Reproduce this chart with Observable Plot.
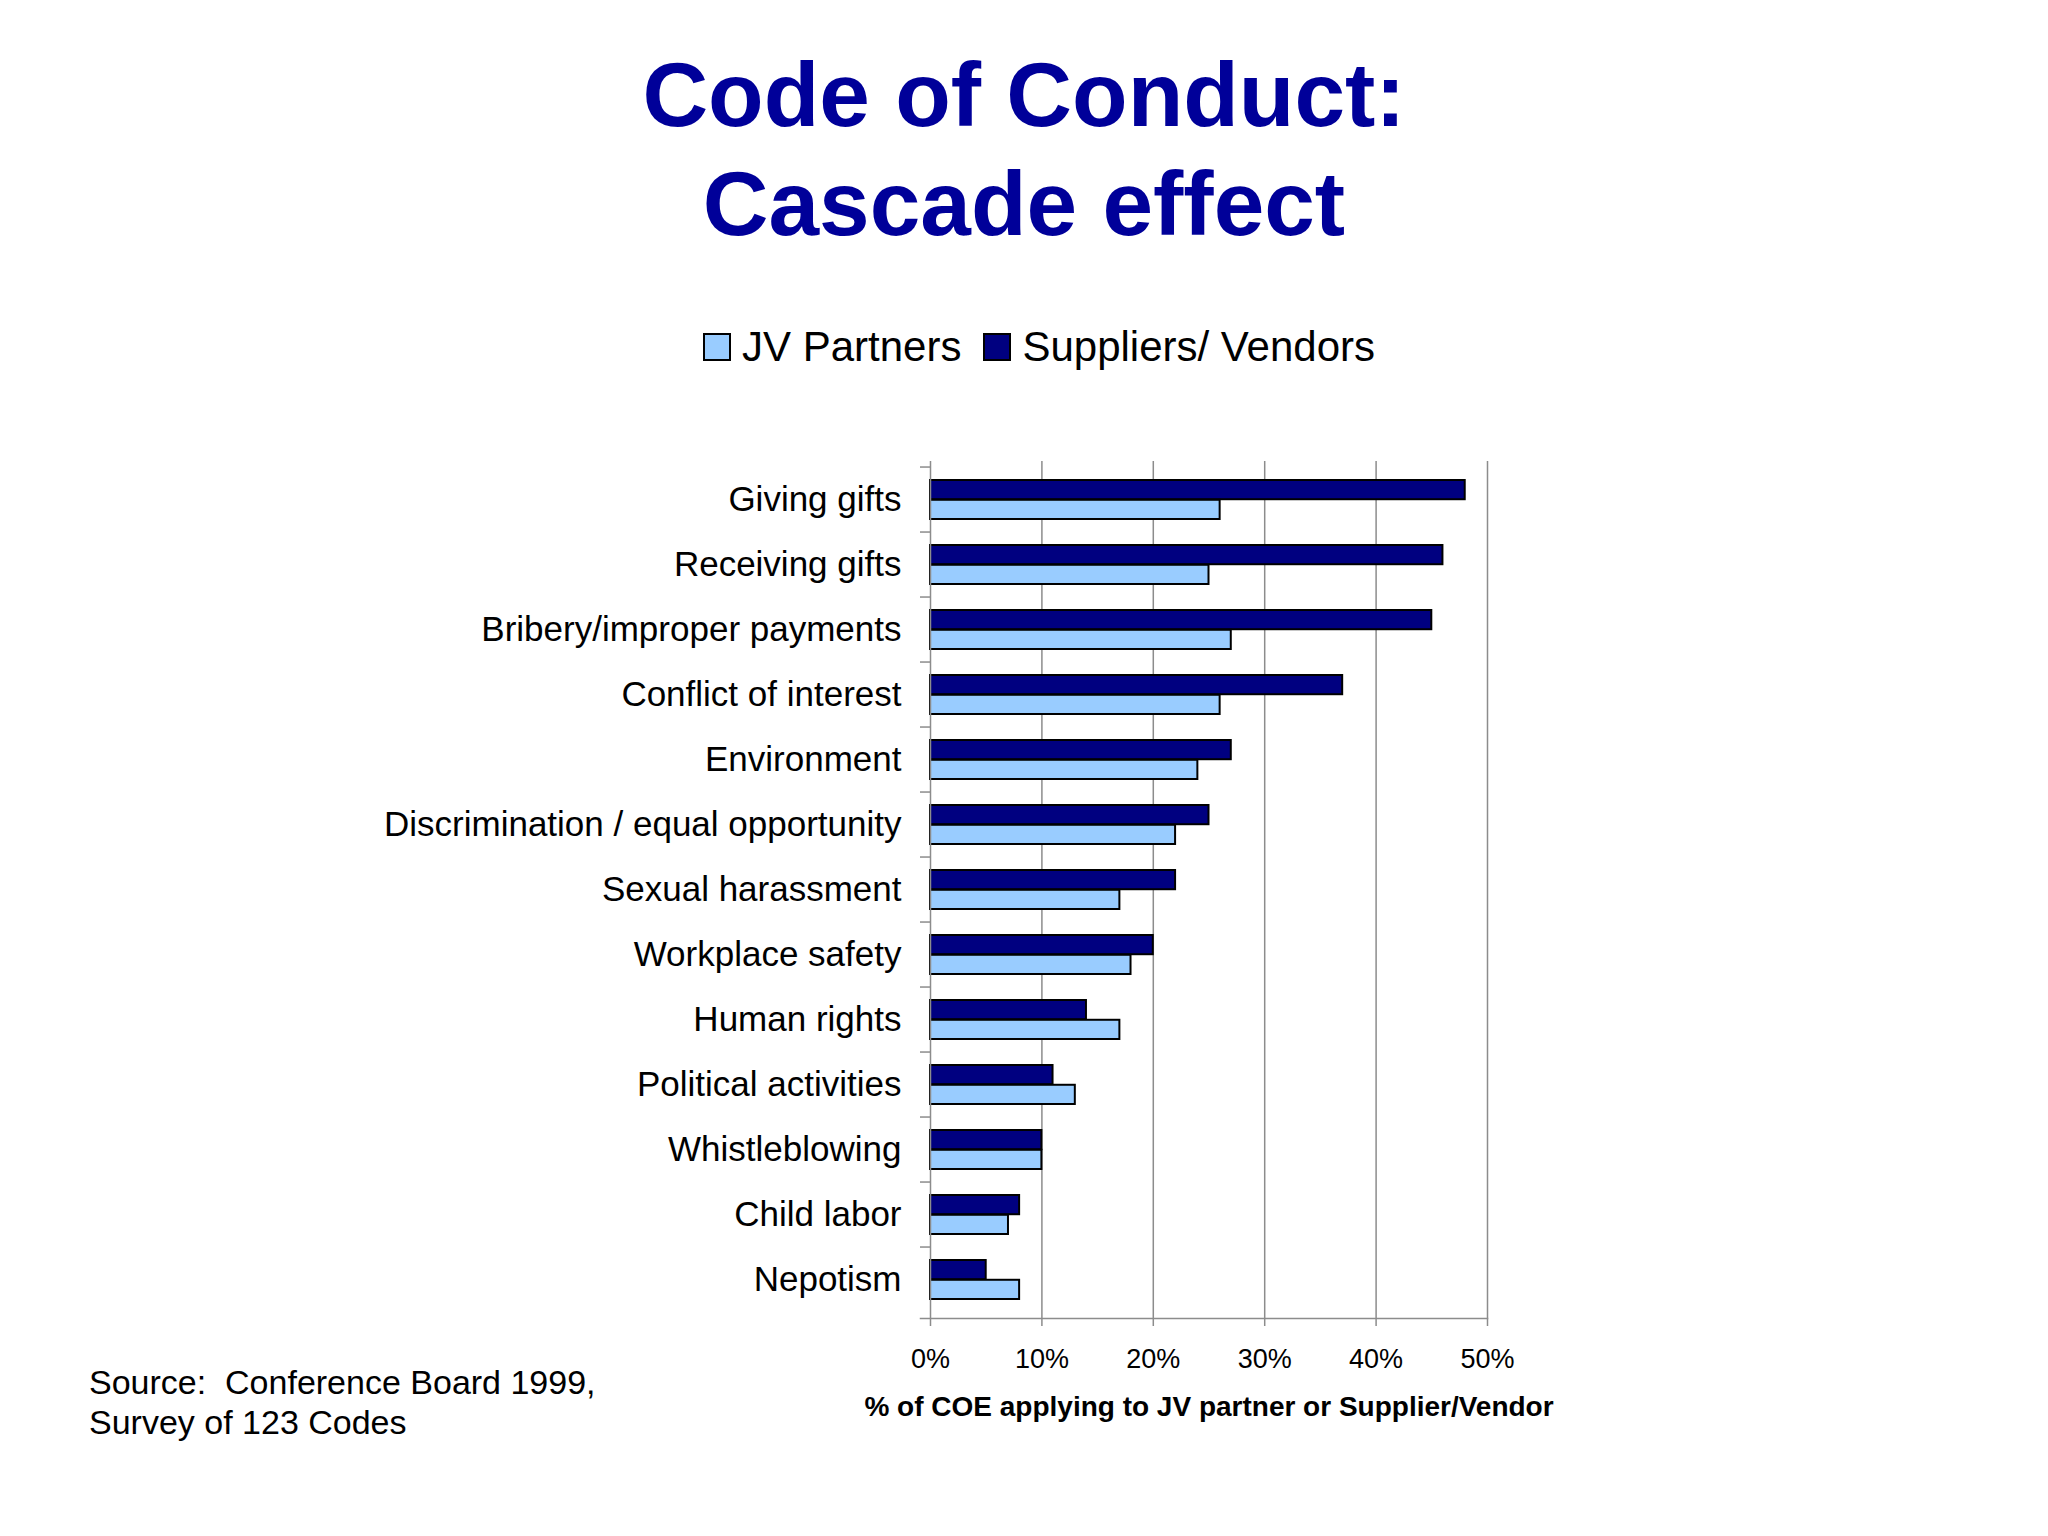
<!DOCTYPE html>
<html>
<head>
<meta charset="utf-8">
<script src="https://cdn.jsdelivr.net/npm/d3@7"></script>
<script src="https://cdn.jsdelivr.net/npm/@observablehq/plot@0.6"></script>
<style>
  html, body { margin: 0; padding: 0; background: #ffffff; }
  body { width: 2048px; height: 1536px; position: relative; overflow: hidden;
         font-family: "Liberation Sans", Arial, sans-serif; color: #000; }
  #title { position: absolute; left: 0; top: 40px; width: 2048px; text-align: center;
           font-weight: bold; font-size: 91px; line-height: 109px; color: #000099; }
  #legend { position: absolute; left: 703px; top: 320px; height: 54px; display: flex;
            align-items: center; font-size: 42px; white-space: nowrap; }
  .sw { width: 24px; height: 24px; border: 2px solid #000; display: inline-block; }
  .lab { margin-left: 11px; margin-right: 22px; }
  #chart { position: absolute; left: 0; top: 420px; line-height: 0; }
  #source { position: absolute; left: 89px; top: 1362px; font-size: 34px; line-height: 40px; }
</style>
</head>
<body>
<div id="title">Code of Conduct:<br>Cascade effect</div>
<div id="legend"></div>
<div id="chart"></div>
<div id="source">Source:&nbsp; Conference Board 1999,<br>Survey of 123 Codes</div>
<script>
const categories = [
  "Giving gifts",
  "Receiving gifts",
  "Bribery/improper payments",
  "Conflict of interest",
  "Environment",
  "Discrimination / equal opportunity",
  "Sexual harassment",
  "Workplace safety",
  "Human rights",
  "Political activities",
  "Whistleblowing",
  "Child labor",
  "Nepotism"
];
const jvPartners = [26, 25, 27, 26, 24, 22, 17, 18, 17, 13, 10, 7, 8];
const suppliersVendors = [48, 46, 45, 37, 27, 25, 22, 20, 14, 11, 10, 8, 5];
const seriesNames = ["JV Partners", "Suppliers/ Vendors"];
const seriesColors = ["#99ccff", "#000080"];
const xTicks = [0, 10, 20, 30, 40, 50];
const xTitle = "% of COE applying to JV partner or Supplier/Vendor";

// legend
const legend = document.getElementById("legend");
seriesNames.forEach((name, i) => {
  const sw = document.createElement("span");
  sw.className = "sw";
  sw.style.background = seriesColors[i];
  const lab = document.createElement("span");
  lab.className = "lab";
  lab.textContent = name;
  legend.appendChild(sw);
  legend.appendChild(lab);
});

const jvRows = categories.map((c, i) => ({category: c, value: jvPartners[i]}));
const svRows = categories.map((c, i) => ({category: c, value: suppliersVendors[i]}));

const width = 2048, height = 1040;
const marginLeft = 930, marginRight = 561, marginTop = 41, marginBottom = 142;
const step = (height - marginTop - marginBottom) / categories.length;
const half = step * 0.6 / 2;

const chart = Plot.plot({
  width, height, marginLeft, marginRight, marginTop, marginBottom,
  style: {fontFamily: '"Liberation Sans", Arial, sans-serif', background: "transparent", color: "#000"},
  x: {domain: [0, 50]},
  y: {domain: categories, paddingInner: 0.4, paddingOuter: 0.2},
  marks: [
    Plot.gridX(xTicks.filter(d => d > 0), {stroke: "#8c8c8c", strokeOpacity: 1, strokeWidth: 1.5}),
    Plot.barX(svRows, {x: "value", y: "category", fill: seriesColors[1], stroke: "#000", strokeWidth: 2, insetBottom: half}),
    Plot.barX(jvRows, {x: "value", y: "category", fill: seriesColors[0], stroke: "#000", strokeWidth: 2, insetTop: half}),
    Plot.ruleX([0], {stroke: "#8c8c8c", strokeWidth: 1.5}),
    Plot.frame({anchor: "bottom", stroke: "#8c8c8c", strokeWidth: 1.5, insetLeft: -10}),
    Plot.axisY({tickSize: 0, tickPadding: 29, fontSize: 35, label: null}),
    Plot.axisY({tickSize: 10, fill: "none", stroke: "#8c8c8c", strokeWidth: 1.5, dy: -step / 2, label: null}),
    Plot.axisX({ticks: xTicks, tickFormat: d => d + "%", tickSize: 8, tickPadding: 22, fontSize: 27,
                stroke: "#8c8c8c", strokeWidth: 1.5, label: null}),
    Plot.text([xTitle], {frameAnchor: "bottom", dy: 97, fontWeight: "bold", fontSize: 28, fill: "#000"})
  ]
});
document.getElementById("chart").appendChild(chart);
</script>
</body>
</html>
